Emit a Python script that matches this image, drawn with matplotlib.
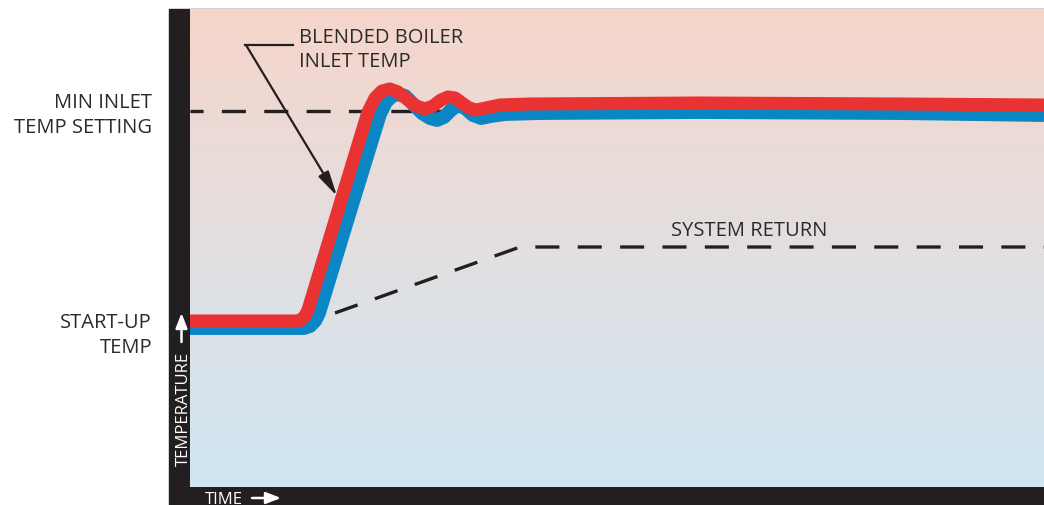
import matplotlib
matplotlib.use("Agg")
import matplotlib.pyplot as plt
import numpy as np
from matplotlib.colors import LinearSegmentedColormap
from matplotlib.patches import Rectangle, FancyArrowPatch

plt.rcParams["font.family"] = ["Open Sans", "DejaVu Sans"]
plt.rcParams["lines.scale_dashes"] = False

# curve values in chart units (time -> x, temperature -> y)
blend_red_t = [0, 106, 111, 115, 118, 150, 178, 185, 192, 200, 208, 217, 226, 235,
               243, 251, 258, 265, 272, 279, 286, 296, 310, 340, 510, 710, 854]
blend_red_T = [166, 166, 167, 171, 177, 283, 375, 389, 396, 398, 395, 388, 381, 378,
               381, 387, 390, 389, 384, 379, 377, 379, 382, 383, 384, 383, 382]

blend_blue_t = [0, 114, 120, 125, 129, 161, 190, 196, 202, 208, 215, 223, 232, 240,
                247, 254, 261, 268, 275, 283, 291, 301, 315, 350, 510, 710, 854]
blend_blue_T = [159, 159, 161, 166, 174, 279, 373, 385, 391, 393, 391, 383, 374, 369,
                367, 370, 377, 382, 379, 372, 369, 371, 373, 374, 375, 374, 372]

min_inlet_t = [0, 370]
min_inlet_T = [376, 376]

sys_return_t = [145, 330, 854]
sys_return_T = [174, 240, 240]

INK = "#231f20"
TXT = "#2a2a2a"
W, H = 1044, 506

fig = plt.figure(figsize=(W / 100, H / 100), dpi=100)

# dark frame on left and bottom
fig.patches.append(Rectangle((169 / W, 0), (W - 169) / W, (506 - 10) / H,
                             transform=fig.transFigure, color=INK, zorder=-10))

ax = fig.add_axes([190 / W, 18 / H, 854 / W, 478 / H])
ax.set_xlim(0, 854)
ax.set_ylim(0, 478)

# background gradient
cmap = LinearSegmentedColormap.from_list("bg", ["#d0e6f3", "#e2dfe0", "#f6d5ca"])
grad = np.linspace(0, 1, 256).reshape(-1, 1)
ax.imshow(grad, cmap=cmap, origin="lower", aspect="auto",
          extent=(0, 854, 0, 478), zorder=0)

for s in ax.spines.values():
    s.set_visible(False)
ax.set_xticks([])
ax.set_yticks([])

dash_pt = 17.3
gap_pt = 13.2
ax.plot(min_inlet_t, min_inlet_T, color=INK, lw=2.4,
        linestyle=(7.9, (dash_pt, gap_pt)), zorder=2)
ax.plot(sys_return_t, sys_return_T, color=INK, lw=2.4,
        linestyle=(0, (dash_pt, gap_pt)), zorder=2)

ax.plot(blend_blue_t, blend_blue_T, color="#0a86c4", lw=10,
        solid_joinstyle="round", solid_capstyle="butt", zorder=3)
ax.plot(blend_red_t, blend_red_T, color="#e93232", lw=9.4,
        solid_joinstyle="round", solid_capstyle="butt", zorder=4)

# leader for blended boiler label
ax.plot([55, 103], [442, 442], color=INK, lw=1.6, zorder=5)
ax.annotate("", xy=(147, 291), xytext=(56, 442),
            arrowprops=dict(arrowstyle="-|>,head_length=1.5,head_width=0.35",
                            color=INK, lw=1.6, shrinkA=0, shrinkB=0), zorder=5)


def ftext(x, y, s, **kw):
    fig.text(x / W, 1 - y / H, s, **kw)


fs = 14.5
ftext(299, 43, "BLENDED BOILER", fontsize=fs, color=TXT, va="baseline")
ftext(299, 67, "INLET TEMP", fontsize=fs, color=TXT, va="baseline")
ftext(152, 108, "MIN INLET", fontsize=fs, color=TXT, ha="right", va="baseline")
ftext(152, 133, "TEMP SETTING", fontsize=fs, color=TXT, ha="right", va="baseline")
ftext(152, 328, "START-UP", fontsize=fs, color=TXT, ha="right", va="baseline")
ftext(152, 353, "TEMP", fontsize=fs, color=TXT, ha="right", va="baseline")
ftext(671, 236, "SYSTEM RETURN", fontsize=fs, color=TXT, va="baseline")

# axis captions in the dark frame
ftext(188, 409, "TEMPERATURE", fontsize=12, color="white", rotation=90,
      ha="center", va="baseline", rotation_mode="anchor")
ftext(205, 504, "TIME", fontsize=12, color="white", va="baseline")

arrow_kw = dict(arrowstyle="-|>,head_length=0.9,head_width=0.35",
                color="white", lw=1.8, shrinkA=0, shrinkB=0)
fig.add_artist(FancyArrowPatch(
    (181.5 / W, 1 - 343 / H), (181.5 / W, 1 - 314 / H),
    transform=fig.transFigure, mutation_scale=10, **arrow_kw))
fig.add_artist(FancyArrowPatch(
    (252 / W, 1 - 499 / H), (281 / W, 1 - 499 / H),
    transform=fig.transFigure, mutation_scale=10, **arrow_kw))

fig.savefig("out.png", dpi=100)
